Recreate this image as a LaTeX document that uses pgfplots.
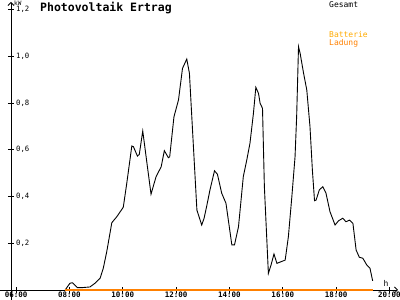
\documentclass[border=0pt]{standalone}
\usepackage{pgfplots}
\pgfplotsset{compat=1.18}
\usetikzlibrary{arrows.meta}
\usepackage{fontspec}
\setmainfont{DejaVu Sans Mono}
\definecolor{batt}{RGB}{255,170,0}
\definecolor{lad}{RGB}{255,128,0}
\begin{document}
\begin{tikzpicture}[x=1pt,y=1pt]
\useasboundingbox (-11,-10) rectangle (389,290);
\begin{axis}[
  at={(0,0)}, anchor=south west,
  scale only axis, width=387pt, height=288pt,
  xmin=5.81, xmax=20.32, ymin=0, ymax=1.232,
  clip=false,
  axis x line=bottom, axis y line=left,
  x axis line style={line width=0.8pt, shorten <=-11pt, -{Straight Barb[length=3pt,width=6pt]}},
  y axis line style={line width=0.8pt, shorten <=-10pt, -{Straight Barb[length=3pt,width=6pt]}},
  tick align=center, major tick length=6pt,
  tick style={black, line width=0.8pt},
  xtick={6,8,10,12,14,16,18,20},
  xticklabels={06:00,08:00,10:00,12:00,14:00,16:00,18:00,20:00},
  xticklabel style={font=\fontsize{7.5}{8}\selectfont\bfseries, anchor=north, inner sep=0pt, yshift=1.5pt},
  ytick={0.2,0.4,0.6,0.8,1.0,1.2},
  yticklabel style={font=\fontsize{7.3}{8}\selectfont, anchor=west, inner sep=0pt, xshift=8pt},
  /pgf/number format/assume math mode=true,
  /pgf/number format/.cd, use comma, fixed, fixed zerofill, precision=1,
]
\addplot[black, line width=0.9pt] coordinates {
(7.84,0) (8.02,0.029) (8.12,0.031) (8.30,0.01) (8.46,0.01) (8.77,0.013) (8.96,0.029) (9.15,0.05) (9.27,0.093) (9.40,0.164) (9.59,0.288) (9.78,0.314) (10.02,0.354) (10.15,0.456) (10.34,0.616) (10.40,0.613) (10.55,0.573) (10.62,0.58) (10.75,0.68) (10.90,0.549) (11.06,0.41) (11.25,0.485) (11.44,0.527) (11.56,0.596) (11.71,0.566) (11.76,0.57) (11.92,0.741) (12.09,0.813) (12.24,0.948) (12.40,0.988) (12.50,0.927) (12.65,0.613) (12.78,0.342) (12.96,0.278) (13.05,0.307) (13.15,0.36) (13.27,0.428) (13.44,0.51) (13.55,0.495) (13.71,0.414) (13.87,0.371) (14.09,0.193) (14.19,0.193) (14.34,0.271) (14.52,0.485) (14.65,0.556) (14.77,0.628) (14.90,0.756) (14.99,0.867) (15.09,0.841) (15.15,0.799) (15.24,0.777) (15.31,0.442) (15.46,0.071) (15.56,0.107) (15.67,0.154) (15.78,0.114) (16.09,0.128) (16.21,0.228) (16.34,0.399) (16.46,0.570) (16.52,0.741) (16.59,1.041) (16.65,1.013) (16.78,0.927) (16.90,0.856) (17.02,0.699) (17.11,0.513) (17.19,0.382) (17.25,0.385) (17.37,0.428) (17.50,0.442) (17.62,0.414) (17.77,0.335) (17.96,0.278) (18.09,0.296) (18.25,0.307) (18.37,0.292) (18.50,0.299) (18.63,0.285) (18.75,0.171) (18.87,0.140) (19.00,0.136) (19.15,0.107) (19.27,0.093) (19.37,0.039)
};
\end{axis}
\begin{axis}[
  at={(0,0)}, anchor=south west,
  scale only axis, width=387pt, height=288pt,
  xmin=5.81, xmax=20.32, ymin=0, ymax=1.232,
  clip=false, axis lines=none,
]
\addplot[draw=lad, line width=1.2pt, mark=none] coordinates {(7.84,0) (19.37,0)};
\end{axis}
\node[anchor=west, inner sep=0pt, font=\fontsize{11.5}{12}\selectfont\bfseries] at (29,282) {Photovoltaik Ertrag};
\node[anchor=west, inner sep=0pt, font=\fontsize{6}{6}\selectfont] at (3,286.5) {kW};
\node[anchor=west, inner sep=0pt, font=\fontsize{8}{9}\selectfont] at (318,285) {Gesamt};
\node[anchor=west, inner sep=0pt, font=\fontsize{8}{9}\selectfont, text=batt] at (318,255) {Batterie};
\node[anchor=west, inner sep=0pt, font=\fontsize{8}{9}\selectfont, text=lad] at (318,246.5) {Ladung};
\node[inner sep=0pt, font=\fontsize{8}{9}\selectfont] at (375,7) {h};
\end{tikzpicture}
\end{document}
